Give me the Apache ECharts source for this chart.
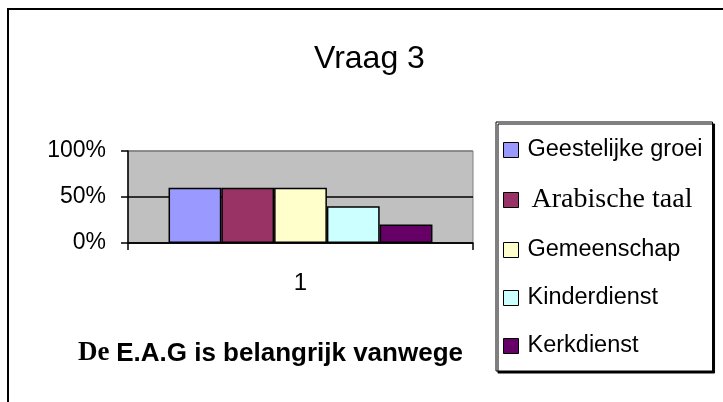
<!DOCTYPE html>
<html>
<head>
<meta charset="utf-8">
<title>Vraag 3</title>
<script src="https://cdn.jsdelivr.net/npm/echarts@6/dist/echarts.min.js"></script>
<style>
	html,body{margin:0;padding:0;background:#fff;}
	#chart{width:723px;height:402px;}
</style>
</head>
<body>
<div id="chart"></div>
<script>
	var categories = ['1']
	var seriesNames = ['Geestelijke groei', 'Arabische taal', 'Gemeenschap', 'Kinderdienst', 'Kerkdienst']
	var seriesValues = [0.6, 0.6, 0.6, 0.4, 0.2]
	var seriesColors = ['#9999FF', '#993366', '#FFFFCC', '#CCFFFF', '#660066']
	var yTicks = [0, 0.5, 1]

	var fontSans = 'Liberation Sans, Arial, sans-serif'
	var fontSerif = 'Liberation Serif, Times New Roman, serif'

	var series = []
	for (var i = 0; i < seriesNames.length; i++) {
		series.push({
			name: seriesNames[i],
			type: 'bar',
			barGap: 0,
			barCategoryGap: '23.5%',
			itemStyle: {
				color: seriesColors[i],
				borderColor: '#000',
				borderWidth: 1.5
			},
			data: [seriesValues[i]]
		})
	}

	// Arabische taal staat in een schreefletter
	var legendData = seriesNames.map(function (n) {
		if (n === 'Arabische taal') {
			return { name: n, textStyle: { fontFamily: fontSerif, fontSize: 28, lineHeight: 24, padding: [0, 0, 0, 8] } }
		}
		return { name: n }
	})

	var option = {
		animation: false,
		backgroundColor: '#fff',
		title: {
			text: 'Vraag 3',
			left: 314,
			top: 43,
			padding: 0,
			textStyle: { fontFamily: fontSans, fontSize: 32, fontWeight: 'normal', color: '#000' }
		},
		graphic: [{
			type: 'rect',
			shape: { x: 8, y: 9, width: 730, height: 400 },
			style: { fill: 'none', stroke: '#000', lineWidth: 2 },
			silent: true
		}],
		legend: {
			orient: 'vertical',
			left: 496,
			top: 122,
			padding: [16, 10, 13, 7],
			itemGap: 24,
			itemWidth: 15,
			itemHeight: 15,
			icon: 'rect',
			backgroundColor: '#fff',
			borderColor: '#000',
			borderWidth: 1,
			shadowColor: '#000',
			shadowOffsetX: 2,
			shadowOffsetY: 2,
			shadowBlur: 0,
			itemStyle: { borderColor: '#000', borderWidth: 1 },
			textStyle: { fontFamily: fontSans, fontSize: 23.5, color: '#000', lineHeight: 24, padding: [0, 0, 0, 4] },
			data: legendData
		},
		grid: {
			left: 128,
			top: 151,
			width: 345,
			height: 92,
			show: true,
			backgroundColor: '#C0C0C0',
			borderColor: '#808080',
			borderWidth: 1
		},
		xAxis: {
			type: 'category',
			data: categories,
			axisLine: { lineStyle: { color: '#000', width: 1.5 } },
			axisTick: { show: true, length: 7, lineStyle: { color: '#000', width: 1.5 } },
			axisLabel: { fontFamily: fontSans, fontSize: 24, color: '#000', margin: 28 },
			name: '{s|De}  {b|E.A.G is belangrijk vanwege}',
			nameLocation: 'middle',
			nameGap: 97,
			nameTextStyle: {
				padding: [0, 60, 0, 0],
				rich: {
					s: { fontFamily: fontSerif, fontWeight: 'bold', fontSize: 27, color: '#000' },
					b: { fontFamily: fontSans, fontWeight: 'bold', fontSize: 26, color: '#000' }
				}
			}
		},
		yAxis: {
			type: 'value',
			min: yTicks[0],
			max: yTicks[yTicks.length - 1],
			interval: yTicks[1] - yTicks[0],
			axisLine: { show: true, lineStyle: { color: '#000', width: 1.5 } },
			axisTick: { show: true, length: 7, lineStyle: { color: '#000', width: 1.5 } },
			axisLabel: {
				fontFamily: fontSans,
				fontSize: 23,
				color: '#000',
				margin: 22,
				formatter: function (v) { return Math.round(v * 100) + '%' }
			},
			splitLine: { show: true, lineStyle: { color: ['#000', '#000', '#808080'], width: 1.5 } }
		},
		series: series
	}

	var chart = echarts.init(document.getElementById('chart'))
	chart.setOption(option, true)
</script>
</body>
</html>
